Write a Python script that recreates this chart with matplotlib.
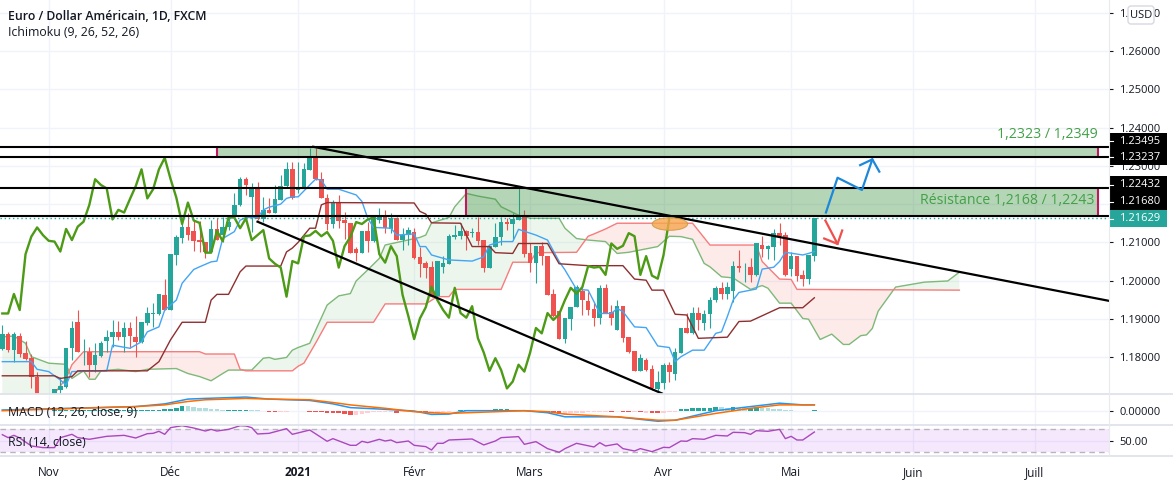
import numpy as np
import matplotlib
matplotlib.use("Agg")
import matplotlib.pyplot as plt
from matplotlib.patches import Rectangle, Ellipse, FancyBboxPatch

plt.rcParams['font.family'] = ['Open Sans', 'DejaVu Sans']

# daily candles, EUR/USD
opens = [1.1822,1.1860,1.1818,1.1855,1.1810,1.1797,1.1749,1.1672,1.1650,1.1690,
1.1714,1.1723,1.1823,1.1892,1.1812,1.1814,1.1780,1.1803,1.1843,1.1852,
1.1866,1.1853,1.1875,1.1852,1.1840,1.1890,1.1913,1.1913,1.1962,1.1923,
1.2067,1.2112,1.2139,1.2130,1.2106,1.2102,1.2076,1.2135,1.2119,1.2141,
1.2165,1.2198,1.2265,1.2219,1.2239,1.2160,1.2185,1.2178,1.2212,1.2247,
1.2291,1.2237,1.2244,1.2289,1.2321,1.2266,1.2217,1.2148,1.2204,1.2158,
1.2151,1.2083,1.2073,1.2130,1.2103,1.2158,1.2165,1.2135,1.2163,1.2106,
1.2119,1.2128,1.2062,1.2045,1.2036,1.1960,1.2036,1.2044,1.2115,1.2116,
1.2130,1.2124,1.2127,1.2106,1.2034,1.2089,1.2113,1.2153,1.2148,1.2158,
1.2165,1.2071,1.2047,1.2090,1.2064,1.1965,1.1920,1.1847,1.1899,1.1930,
1.1973,1.1947,1.1926,1.1901,1.1981,1.1917,1.1871,1.1933,1.1853,1.1816,
1.1764,1.1792,1.1769,1.1716,1.1733,1.1780,1.1756,1.1811,1.1876,1.1862,
1.1915,1.1890,1.1912,1.1948,1.1981,1.1966,1.1972,1.2038,1.2035,1.2036,
1.2015,1.2093,1.2083,1.2088,1.2124,1.2118,1.2031,1.2064,1.2015,1.2005,
1.2065]
highs = [1.1884,1.1866,1.1866,1.1864,1.1843,1.1808,1.1760,1.1690,1.1680,1.1716,
1.1749,1.1823,1.1895,1.1923,1.1847,1.1827,1.1836,1.1843,1.1871,1.1897,
1.1894,1.1893,1.1893,1.1907,1.1893,1.1932,1.1941,1.1965,1.2004,1.2069,
1.2119,1.2165,1.2176,1.2157,1.2157,1.2102,1.2158,1.2163,1.2165,1.2163,
1.2228,1.2272,1.2272,1.2254,1.2259,1.2219,1.2215,1.2250,1.2276,1.2309,
1.2309,1.2309,1.2307,1.2346,1.2346,1.2285,1.2226,1.2211,1.2224,1.2180,
1.2151,1.2089,1.2130,1.2154,1.2171,1.2189,1.2185,1.2176,1.2165,1.2137,
1.2141,1.2137,1.2089,1.2051,1.2050,1.2051,1.2064,1.2122,1.2145,1.2150,
1.2132,1.2137,1.2167,1.2106,1.2090,1.2150,1.2165,1.2163,1.2178,1.2241,
1.2185,1.2097,1.2091,1.2102,1.2064,1.1977,1.1920,1.1901,1.1930,1.1988,
1.1988,1.1971,1.1941,1.1988,1.1990,1.1936,1.1949,1.1933,1.1853,1.1816,
1.1808,1.1797,1.1780,1.1764,1.1784,1.1788,1.1823,1.1876,1.1916,1.1930,
1.1930,1.1923,1.1958,1.1987,1.1996,1.1996,1.2050,1.2080,1.2045,1.2058,
1.2099,1.2116,1.2092,1.2134,1.2150,1.2126,1.2076,1.2064,1.2028,1.2067,
1.2163]
lows = [1.1818,1.1814,1.1788,1.1801,1.1792,1.1718,1.1660,1.1640,1.1640,1.1680,
1.1701,1.1720,1.1792,1.1814,1.1780,1.1749,1.1762,1.1801,1.1814,1.1827,
1.1845,1.1814,1.1823,1.1801,1.1836,1.1884,1.1879,1.1910,1.1923,1.1923,
1.2041,1.2097,1.2106,1.2078,1.2076,1.2058,1.2076,1.2106,1.2102,1.2132,
1.2163,1.2195,1.2224,1.2128,1.2158,1.2154,1.2176,1.2176,1.2211,1.2246,
1.2213,1.2228,1.2244,1.2289,1.2263,1.2215,1.2132,1.2137,1.2137,1.2110,
1.2071,1.2051,1.2073,1.2076,1.2102,1.2150,1.2124,1.2124,1.2106,1.2080,
1.2093,1.2056,1.2010,1.2006,1.1958,1.1958,1.2019,1.2043,1.2110,1.2110,
1.2080,1.2115,1.2093,1.2023,1.2034,1.2087,1.2093,1.2132,1.2110,1.2158,
1.2062,1.2023,1.1993,1.2041,1.1963,1.1906,1.1846,1.1838,1.1871,1.1930,
1.1910,1.1910,1.1882,1.1886,1.1914,1.1884,1.1871,1.1840,1.1810,1.1764,
1.1764,1.1764,1.1714,1.1709,1.1716,1.1736,1.1740,1.1810,1.1862,1.1860,
1.1871,1.1871,1.1875,1.1945,1.1951,1.1953,1.1945,1.2023,1.1997,1.1995,
1.2013,1.2061,1.2056,1.2054,1.2093,1.2013,1.2012,1.1999,1.1987,1.1991,
1.2052]
closes = [1.1860,1.1818,1.1860,1.1808,1.1795,1.1749,1.1670,1.1650,1.1668,1.1716,
1.1724,1.1823,1.1875,1.1814,1.1814,1.1780,1.1805,1.1836,1.1852,1.1866,
1.1852,1.1875,1.1855,1.1839,1.1891,1.1914,1.1914,1.1965,1.1923,1.2069,
1.2115,1.2139,1.2119,1.2104,1.2102,1.2076,1.2135,1.2106,1.2141,1.2154,
1.2198,1.2265,1.2250,1.2241,1.2160,1.2185,1.2178,1.2213,1.2247,1.2291,
1.2215,1.2239,1.2291,1.2321,1.2266,1.2217,1.2148,1.2204,1.2157,1.2151,
1.2073,1.2073,1.2130,1.2103,1.2165,1.2165,1.2137,1.2163,1.2106,1.2119,
1.2132,1.2058,1.2044,1.2034,1.1958,1.2051,1.2045,1.2116,1.2118,1.2130,
1.2116,1.2127,1.2104,1.2034,1.2090,1.2114,1.2153,1.2148,1.2160,1.2165,
1.2069,1.2047,1.2090,1.2064,1.1963,1.1907,1.1847,1.1901,1.1930,1.1984,
1.1949,1.1923,1.1903,1.1981,1.1915,1.1903,1.1933,1.1849,1.1812,1.1764,
1.1797,1.1766,1.1718,1.1736,1.1780,1.1762,1.1812,1.1876,1.1862,1.1915,
1.1897,1.1912,1.1949,1.1981,1.1966,1.1983,1.2038,1.2034,1.2036,1.2015,
1.2097,1.2083,1.2091,1.2124,1.2116,1.2015,1.2064,1.2013,1.2005,1.2067,
1.2163]

# ichimoku lines: bar number, price
tenkan_x = [0,5,6,8,10,11,12,18,19,22,24,25,27,28,30,31,33,34,36,37,38,40,41,42,44,45,46,48,49,50,
51,53,54,55,56,58,61,62,63,64,67,68,71,72,73,74,77,81,83,84,86,88,89,92,94,96,97,99,
101,102,103,105,106,107,109,111,113,115,116,117,119,121,123,124,125,126,127,130,131,133,134,135,138,139,140]
tenkan_y = [1.1788,1.1788,1.1768,1.1762,1.1740,1.1727,1.1762,1.1764,1.1831,1.1823,1.1840,1.1866,1.1879,1.1923,1.1949,1.1993,1.2029,1.2036,1.2049,1.2051,1.2110,1.2128,1.2158,1.2165,1.2165,1.2185,1.2192,1.2200,1.2215,1.2219,
1.2219,1.2250,1.2265,1.2263,1.2239,1.2239,1.2224,1.2207,1.2163,1.2139,1.2137,1.2119,1.2122,1.2089,1.2089,1.2067,1.2054,1.2051,1.2062,1.2093,1.2102,1.2102,1.2134,1.2119,1.2106,1.2050,1.2028,1.1977,
1.1975,1.1945,1.1914,1.1914,1.1927,1.1919,1.1879,1.1877,1.1829,1.1825,1.1788,1.1801,1.1818,1.1818,1.1862,1.1866,1.1906,1.1949,1.1969,1.1978,1.2030,1.2035,1.2050,1.2074,1.2067,1.2071,1.2076]
kijun_x = [0,9,10,12,13,25,27,29,31,35,36,37,39,41,42,48,49,50,51,53,54,55,56,71,72,73,74,79,81,84,85,88,89,94,96,101,107,109,111,112,114,116,118,120,125,127,129,134,138,140]
kijun_y = [1.1751,1.1751,1.1744,1.1749,1.1764,1.1764,1.1788,1.1845,1.1891,1.1891,1.1949,1.1964,1.1964,1.2023,1.2038,1.2038,1.2075,1.2085,1.2100,1.2137,1.2137,1.2198,1.2204,1.2203,1.2181,1.2174,1.2151,1.2150,1.2089,1.2089,1.2073,1.2071,1.2097,1.2097,1.2044,1.2039,1.2039,1.2004,1.2001,1.1975,1.1975,1.1912,1.1910,1.1849,1.1852,1.1893,1.1894,1.1929,1.1929,1.1955]
span_a_x = [0,2,4,5,8,11,12,14,15,16,17,20,23,25,30,32,34,36,38,39,43,45,46,47,49,50,51,
53,56,58,60,61,63,65,66,69,72,73,74,77,78,80,82,85,86,89,91,96,97,99,101,
104,106,108,113,115,117,119,121,122,124,126,129,131,132,134,136,138,139,141,143,145,146,148,149,150,151,154,159,163,165]
span_a_y = [1.1853,1.1855,1.1836,1.1801,1.1784,1.1781,1.1744,1.1764,1.1742,1.1742,1.1764,1.1768,1.1762,1.1768,1.1770,1.1757,1.1749,1.1738,1.1757,1.1766,1.1766,1.1797,1.1799,1.1794,1.1799,1.1818,1.1825,
1.1836,1.1936,1.1960,1.1966,1.1999,1.2028,1.2058,1.2093,1.2103,1.2113,1.2119,1.2151,1.2165,1.2193,1.2228,1.2221,1.2213,1.2193,1.2171,1.2163,1.2163,1.2137,1.2110,1.2106,
1.2102,1.2071,1.2074,1.2089,1.2116,1.2115,1.2108,1.2045,1.2036,1.2010,1.2007,1.1977,1.1987,1.1980,1.1941,1.1941,1.1901,1.1899,1.1846,1.1860,1.1833,1.1833,1.1856,1.1858,1.1875,1.1920,1.1983,1.1996,1.1999,1.2022]
span_b_x = [0,8,9,11,12,14,34,35,40,41,42,50,51,52,54,56,64,66,73,75,77,78,86,88,91,92,99,101,102,104,106,119,122,130,131,134,136,137,165]
span_b_y = [1.1690,1.1690,1.1705,1.1744,1.1780,1.1814,1.1814,1.1808,1.1808,1.1768,1.1764,1.1764,1.1776,1.1784,1.1836,1.1891,1.1891,1.1939,1.1939,1.1958,1.1958,1.1977,1.1977,1.2048,1.2048,1.2073,1.2074,1.2116,1.2122,1.2135,1.2150,1.2150,1.2093,1.2093,1.2050,1.2004,1.2003,1.1977,1.1975]

# macd, in 1e-4
macd_x = [0,23,28,32,35,42,46,53,57,60,66,71,74,77,80,90,94,97,106,113,116,123,129,134,138,140]
macd_line = [2,12,20,34,36,40,34,30,20,9,4,-1,-11,-10,0,0,-6,-18,-18,-31,-28,0,12,22,17,17]
signal_x = [0,23,28,32,35,42,46,53,57,60,66,71,74,77,90,94,97,106,113,116,123,129,134,138,140]
signal_line = [0,12,17,27,32,36,34,32,24,17,7,-3,-6,-8,0,-3,-10,-18,-28,-28,-8,7,17,17,17]
hist_vals = [-1,-1,-1,-1,-1,-1,-1,-1,-1,1,1,1,1,1,1,1,1,1,2,2,2,2,2,3,
3,3,3,3,4,5,9,13, 13,10,9,7,6,4,3, 3,3,3,3, 2,1, -2,-3,-3, -3,-3,-2,-2,-2,
-3,-3,-4,-6,-7,-8,-9,-12, -12,-10,-7,-4,-4,-3,-3, -6, -3,-2, -3,-5,-8, -6,-6,-5,-3,-2,
1,3,3, 3,2,1, 4,4,4,3, 3,1, -1,-3,-5,-7,-8,-10, -10,-8,-7,-6,-5,-4,-3,-3,
-3, -1, -3,-5, -5, -5, -6, -7,-7, -6,-4,-3, 4,6,8,9,9,9,11, 11,9, 11, 8,8, 8,8,
8,7,6,4,2,1, -1, -2, -2, 1]
hist_kind = ("r"*9 + "T"*15 + "T"*8 + "t"*7 + "T"*4 + "t"*2 + "R"*3 + "r"*5 + "R"*8 + "r"*7 + "R" + "rr" + "R"*3
             + "r"*5 + "T"*3 + "t"*3 + "T"*4 + "tt" + "R"*6 + "r"*8 + "R" + "r" + "RR" + "r" + "R" + "r" + "RR"
             + "r"*3 + "T"*7 + "tt" + "T" + "tt" + "TT" + "t"*6 + "r" + "R" + "r" + "T")
hist_colors = {"T": "#26a69a", "t": "#b2dfdb", "R": "#ef5350", "r": "#ffcdd2"}

# rsi
rsi_x = [0,1,2,3,4,5,7,9,10,12,13,15,18,21,23,25,26,27,28,29,31,33,35,36,37,39,41,42,43,44,46,49,50,53,56,57,60,61,62,63,65,66,67,68,70,71,73,74,75,76,77,
81,83,85,86,89,90,92,94,96,97,99,102,103,104,106,107,109,110,112,114,115,117,118,119,121,123,125,126,128,129,130,132,134,135,136,137,138,140]
rsi_y = [60.1,55.1,59,54.5,47.7,41,38.2,38.2,55,60.7,55.1,52.3,57.3,59,54.5,61.8,62.4,65.8,60.7,72,75.3,71.4,66.3,69.1,66.3,69.1,75.3,74.8,72,61.3,62.4,70.3,60.7,68,48.9,53.4,42.1,42.1,48.9,46.6,52.3,49.4,51.1,46.6,49.4,42.1,39.9,34.2,45.5,45.5,51.1,
52.8,42.7,49.4,55.1,56.8,43.8,48.3,36.5,30.3,36.5,45.5,39.3,46.6,41,44.4,36.5,32.5,36.5,31.4,38.7,38.2,49.4,48.9,53.4,52.3,59,57.9,64.1,63.5,60.7,66.9,65.8,69.1,53.4,57.3,51.1,51.1,64.6]

# zones and drawings, prices
levels = [1.23495, 1.23237, 1.22432, 1.2168]
last_price = 1.21629
month_pos = [8, 29, 51, 71, 91, 114, 136, 157, 178]
month_labels = ['Nov', 'Déc', '2021', 'Févr', 'Mars', 'Avr', 'Mai', 'Juin', 'Juill']
price_ticks = [1.18, 1.19, 1.20, 1.21, 1.22, 1.23, 1.24, 1.25, 1.26, 1.27]

GRID = '#f0f3fa'
W, H = 1173, 484
XLIM = (-0.4, 190.8)


def make_axes(top, bottom):
    a = fig.add_axes([0, 1 - bottom / H, 1109 / W, (bottom - top) / H])
    a.set_xlim(*XLIM)
    for s in a.spines.values():
        s.set_visible(False)
    a.set_xticks(month_pos)
    a.tick_params(axis='x', length=0, labelbottom=False)
    a.grid(True, axis='both', color=GRID, lw=1)
    a.set_axisbelow(True)
    a.yaxis.tick_right()
    a.tick_params(axis='y', length=3, width=0.8, color='#131722', labelsize=8, pad=4.5, labelcolor='#131722')
    return a


fig = plt.figure(figsize=(W / 100, H / 100), dpi=100)
ax = make_axes(0, 394)
ax.set_ylim(1.17034, 1.27338)
ax.set_yticks(price_ticks)
# 1.22000 sits fully behind the price boxes
ax.set_yticklabels(['' if p == 1.22 else '%.5f' % p for p in price_ticks])

x = np.arange(len(closes))
opens, highs, lows, closes = map(np.array, (opens, highs, lows, closes))
up = closes >= opens
colors = np.where(up, '#26a69a', '#ef5350')

# cloud first, everything sits on it
fine = np.linspace(0, 165, 1651)
a_fine = np.interp(fine, span_a_x, span_a_y)
b_fine = np.interp(fine, span_b_x, span_b_y)
ax.fill_between(fine, a_fine, b_fine, where=a_fine >= b_fine, color='#4caf50', alpha=0.1, lw=0, interpolate=True, zorder=1)
ax.fill_between(fine, a_fine, b_fine, where=a_fine < b_fine, color='#f44336', alpha=0.1, lw=0, interpolate=True, zorder=1)
ax.plot(span_a_x, span_a_y, color='#7fb878', lw=1, zorder=2)
ax.plot(span_b_x, span_b_y, color='#f77c7c', lw=1, zorder=2)

ax.vlines(x, lows, highs, colors=colors, lw=0.8, zorder=3)
ax.bar(x, closes - opens, bottom=opens, width=0.8, color=colors, lw=0, zorder=3)

ax.plot(tenkan_x, tenkan_y, color='#42a5f5', lw=1, zorder=4)
ax.plot(kijun_x, kijun_y, color='#8e2f2f', lw=1, zorder=4)
# lagging span is the close moved back
ax.plot(x[:-25], closes[25:], color='#4c9a15', lw=1.7, zorder=4)

# zones
for x0, p0, p1 in [(37, levels[1], levels[0]), (79.9, levels[3], levels[2])]:
    ax.add_patch(Rectangle((x0, p0), 188.9 - x0, p1 - p0, fc='#388e3c', alpha=0.37, lw=0, zorder=5))
    ax.vlines([x0, 188.9], p0, p1, color='#c2185b', lw=1.5, zorder=6)
ax.hlines(levels, XLIM[0], XLIM[1], color='black', lw=1.5, zorder=7)
ax.axhline(last_price, color='#26a69a', lw=1, ls=(0, (1, 2)), zorder=7)

# trend lines
ax.plot([53.6, 190.8], [1.2350, 1.1947], color='black', lw=1.6, zorder=8)
ax.plot([44, 113.7], [1.2154, 1.1705], color='black', lw=1.6, zorder=8)

ax.add_patch(Ellipse((115.1, 1.2148), 6.1, 0.0033, fc='#f7a74f', ec='#c9973c', alpha=0.8, lw=0.8, zorder=9))

# arrows
ax.plot([142.0, 144.0, 148.2, 150, 147.9], [1.2178, 1.2269, 1.2237, 1.2317, 1.2302], color='#1e88d8', lw=1.6, zorder=9)
ax.plot([150, 151.2], [1.2317, 1.2285], color='#1e88d8', lw=1.6, zorder=9)
ax.plot([141.9, 144, 141.7], [1.2157, 1.2096, 1.2110], color='#f0504c', lw=1.6, zorder=9)
ax.plot([144, 144.8], [1.2096, 1.2131], color='#f0504c', lw=1.6, zorder=9)

# macd pane
ax2 = make_axes(395, 425)
ax2.set_ylim(-4.2e-3, 4.6e-3)
ax2.set_yticks([0])
ax2.set_yticklabels(['0.00000'])
scale = 1e-4
ax2.bar(x, np.array(hist_vals) * scale, width=0.8, color=[hist_colors[k] for k in hist_kind], lw=0)
ax2.plot(macd_x, np.array(macd_line) * scale, color='#2196f3', lw=1.1)
ax2.plot(signal_x, np.array(signal_line) * scale, color='#ff6d00', lw=1.1)

# rsi pane
ax3 = make_axes(425, 456)
ax3.set_ylim(24, 76.5)
ax3.set_yticks([50])
ax3.set_yticklabels(['50.00'])
ax3.axhspan(30, 70, color='#a020f0', alpha=0.1, lw=0)
ax3.axhline(70, color='#b9b5bd', lw=1, ls=(0, (4, 3)))
ax3.axhline(30, color='#b9b5bd', lw=1, ls=(0, (4, 3)))
ax3.plot(rsi_x, rsi_y, color='#ab47bc', lw=1)
ax3.tick_params(axis='x', labelbottom=True, labelsize=8.5, pad=7, labelcolor='#131722')
ax3.set_xticklabels(month_labels)
ax3.get_xticklabels()[2].set_fontweight('bold')

# top layer in pixels: legends, price labels
ui = fig.add_axes([0, 0, 1, 1], zorder=20)
ui.set_xlim(0, W)
ui.set_ylim(H, 0)
ui.axis('off')
for yy in (394, 425, 456):
    ui.plot([0, W], [yy, yy], color='#e0e3eb', lw=1.3)
ui.plot([1109, 1109], [0, 456], color='#e8eaf0', lw=0.8)

ui.text(8, 16, 'Euro / Dollar Américain, 1D, FXCM', fontsize=8.8, fontweight='semibold', color='#131722', va='center')
ui.text(8, 33, 'Ichimoku (9, 26, 52, 26)', fontsize=8.8, color='#131722', va='center')
ui.text(8, 412, 'MACD (12, 26, close, 9)', fontsize=8.8, color='#131722', va='center')
ui.text(8, 442, 'RSI (14, close)', fontsize=8.8, color='#131722', va='center')

ui.text(1098, 135, '1,2323 / 1,2349', fontsize=10.2, color='#43a047', ha='right', va='center')
ui.text(1094, 201, 'Résistance 1,2168 / 1,2243', fontsize=10.2, color='#43a047', ha='right', va='center')

# price boxes, pushed apart like the platform does it
boxes = [(133, 149, '#000000', levels[0]), (149, 165, '#000000', levels[1]), (176, 193, '#000000', levels[2]),
         (193, 210, '#000000', levels[3]), (210, 227, '#26a69a', last_price)]
for top, bot, col, val in boxes:
    ui.add_patch(Rectangle((1109, top), 58, bot - top, fc=col, lw=0))
    ui.plot([1109, 1113], [(top + bot) / 2] * 2, color='white', lw=0.8)
    ui.text(1119, (top + bot) / 2, '%.5f' % val, color='white', fontsize=8, va='center')

# currency button over the top tick
ui.add_patch(FancyBboxPatch((1128, 6), 26, 18, boxstyle='round,pad=0,rounding_size=3', fc='white', ec='#d6d9e2', lw=1))
ui.text(1141, 15, 'USD', fontsize=8, color='#131722', va='center', ha='center')

fig.savefig('out.png', dpi=100)
